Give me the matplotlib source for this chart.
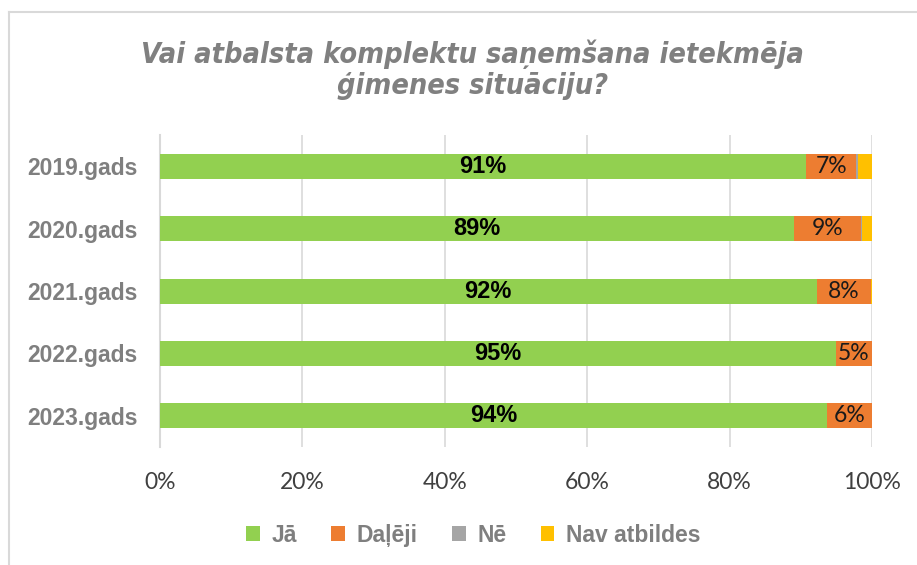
import matplotlib.pyplot as plt
from matplotlib.lines import Line2D

# data (percent of answers)
years = ["2019.gads", "2020.gads", "2021.gads", "2022.gads", "2023.gads"]
ja = [90.7, 89.0, 92.2, 94.9, 93.7]
daleji = [7.1, 9.4, 7.6, 5.1, 6.3]
ne = [0.2, 0.2, 0.0, 0.0, 0.0]
nav = [2.0, 1.4, 0.2, 0.0, 0.0]

series = [("Jā", ja, "#92d050"), ("Daļēji", daleji, "#ed7d31"),
          ("Nē", ne, "#a5a5a5"), ("Nav atbildes", nav, "#ffc000")]

fig = plt.figure(figsize=(9.17, 5.65), dpi=100)
ax = fig.add_axes([0.1745, 0.2088, 0.7765, 0.5522])

ypos = list(range(len(years)))
left = [0.0] * len(years)
for name, vals, col in series:
    ax.barh(ypos, vals, left=left, height=0.4, color=col, label=name, zorder=3)
    left = [a + b for a, b in zip(left, vals)]

# data labels
for i in ypos:
    ax.text(ja[i] / 2, i, f"{round(ja[i])}%", ha="center", va="center",
            fontsize=17, fontweight="bold", color="black", zorder=4,
            family="Liberation Sans")
    ax.text(ja[i] + daleji[i] / 2, i, f"{round(daleji[i])}%", ha="center",
            va="center", fontsize=16.5, color="#1a1a1a", zorder=4, family="Lato")

ax.set_ylim(len(years) - 0.5, -0.5)
ax.set_yticks(ypos)
ax.set_yticklabels(years, fontsize=16.5, fontweight="bold", color="#7f7f7f",
                   family="Liberation Sans")
ax.set_xlim(0, 100)
ax.set_xticks([0, 20, 40, 60, 80, 100])
ax.set_xticklabels(["0%", "20%", "40%", "60%", "80%", "100%"], fontsize=16.5,
                   color="#404040", family="Lato")
ax.tick_params(axis="both", length=0)
ax.tick_params(axis="x", pad=18)
ax.tick_params(axis="y", pad=16)
ax.grid(axis="x", color="#d9d9d9", linewidth=1.2, zorder=0)
for s in ["top", "right", "bottom"]:
    ax.spines[s].set_visible(False)
ax.spines["left"].set_color("#d9d9d9")
ax.spines["left"].set_linewidth(1.5)

fig.text(0.515, 0.877, "Vai atbalsta komplektu saņemšana ietekmēja\nģimenes situāciju?",
         ha="center", va="center", fontsize=20.7, fontweight="bold", style="italic",
         fontstretch="condensed", color="#808080", linespacing=1.15,
         family="DejaVu Sans")

leg = ax.legend(loc="center", bbox_to_anchor=(0.44, -0.282), ncol=4, frameon=False,
                handlelength=0.6, handleheight=0.6, handletextpad=0.5,
                columnspacing=1.5, prop={"family": "Liberation Sans", "size": 16.5,
                                         "weight": "bold"})
for t in leg.get_texts():
    t.set_color("#7f7f7f")

# outer chart frame (left and top edges visible)
fig.add_artist(Line2D([9 / 917, 9 / 917], [0, 1 - 12 / 565], color="#d9d9d9", lw=1.5))
fig.add_artist(Line2D([9 / 917, 1], [1 - 12 / 565, 1 - 12 / 565], color="#d9d9d9", lw=1.5))

fig.savefig("out.png", dpi=100)
